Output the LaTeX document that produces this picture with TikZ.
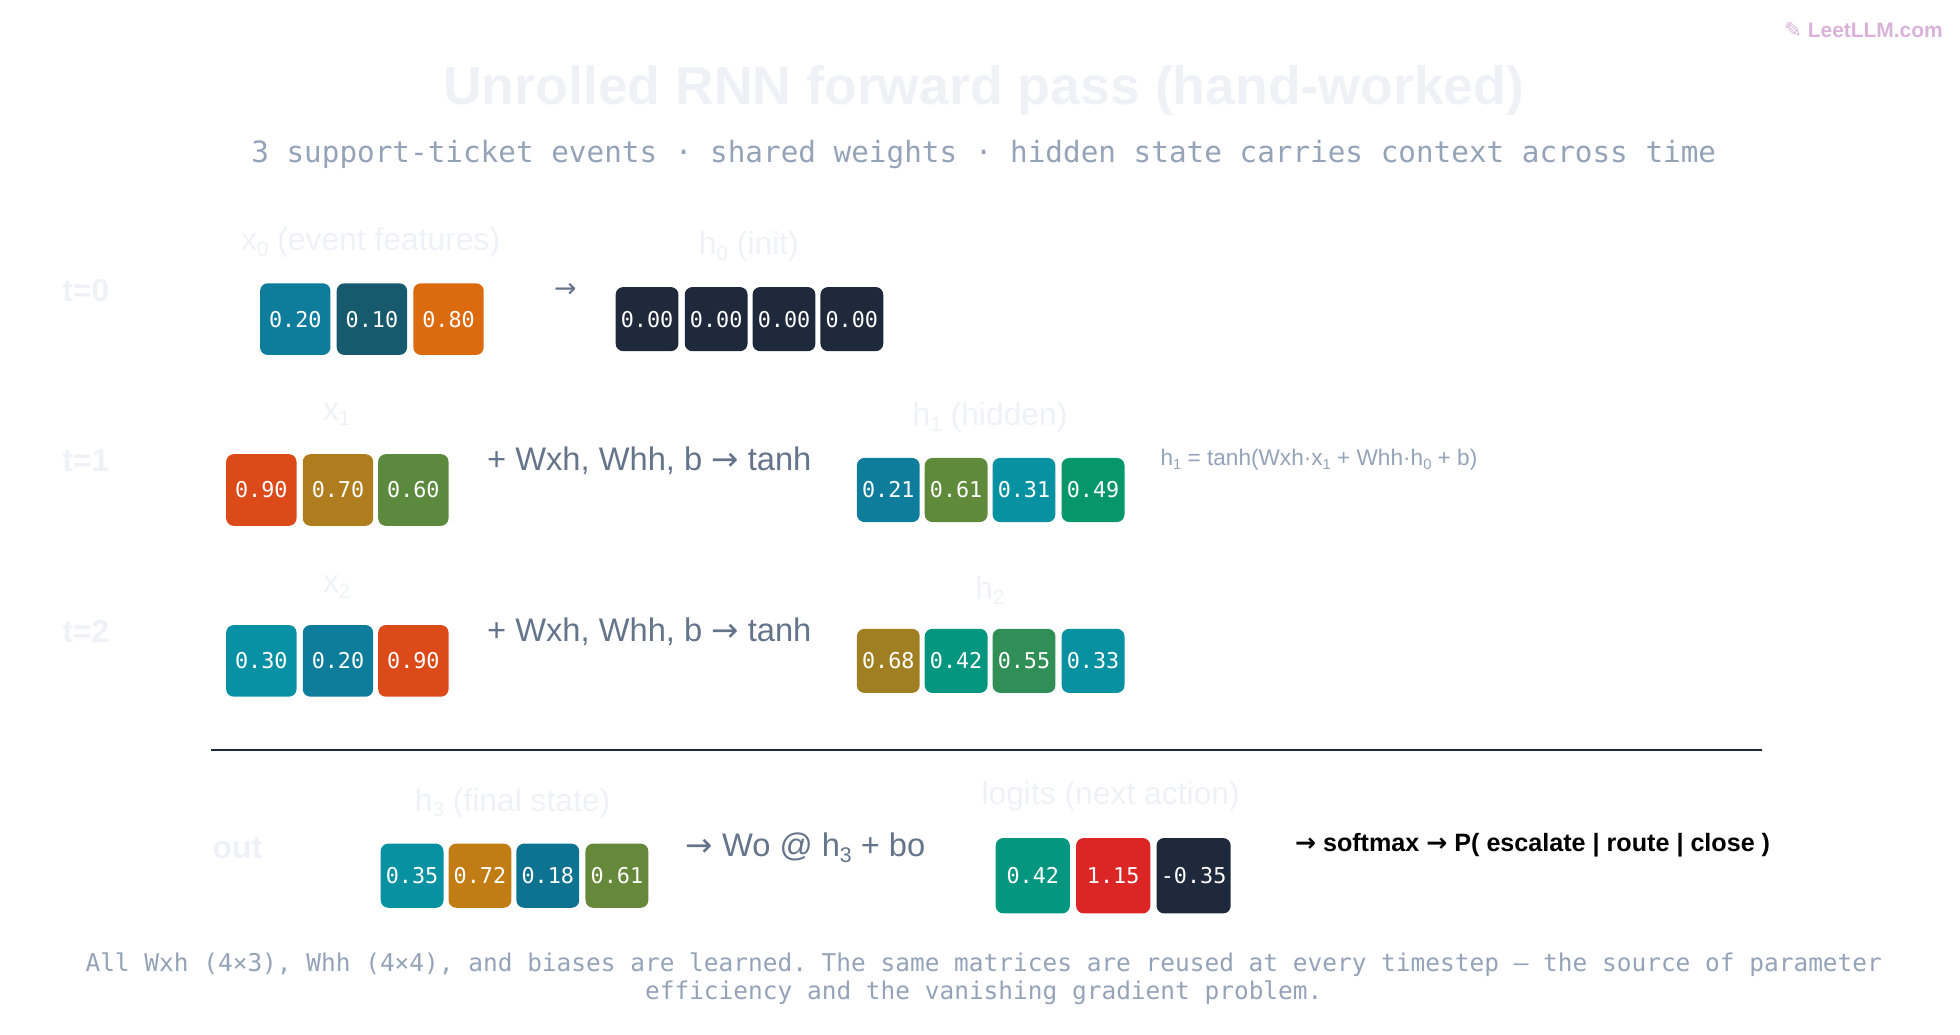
\documentclass[tikz,border=0pt]{standalone}
\usepackage{fontspec}
\setmainfont{Liberation Sans}
\setmonofont{DejaVu Sans Mono}
\newfontfamily\djv{DejaVu Sans}
\newcommand{\arr}{{\djv →}}
\newcommand{\sbs}[1]{\raisebox{-0.35ex}{\scalebox{0.65}{#1}}}
\newcommand{\fs}[1]{\fontsize{#1}{#1}\selectfont}
\definecolor{faint}{HTML}{EEF2F7}
\definecolor{slate}{HTML}{64748B}
\definecolor{slatel}{HTML}{94A3B8}
\definecolor{ink}{HTML}{1E293B}
\newcommand{\cell}[7]{\definecolor{c#1}{HTML}{#6}\node[cell,fill=c#1,minimum width=#4*0.75pt,minimum height=#5*0.75pt] (#1) at (#2,#3) {#7};}
\begin{document}
\begin{tikzpicture}[x=0.75pt,y=-0.75pt,
  cell/.style={rounded corners=4.5pt,text=white,font=\ttfamily\fs{13pt},inner sep=0pt},
  faintlbl/.style={text=faint,font=\bfseries\fs{19pt}},
  lbl/.style={text=faint,font=\fs{19pt}},
  op/.style={text=slate,font=\fs{19.5pt},anchor=west}]
\useasboundingbox (0,0) rectangle (1560,823);
\node[text=violet!30,font=\bfseries\fs{12.5pt},anchor=east] (logo) at (1551,24) {{\djv ✎} LeetLLM.com};
\node[text=faint,font=\bfseries\fs{32pt}] (title) at (783,72) {Unrolled RNN forward pass (hand-worked)};
\node[text=slatel,font=\ttfamily\fs{17.5pt}] (sub) at (783,123) {3 support-ticket events · shared weights · hidden state carries context across time};
% t=0
\node[faintlbl,anchor=west] (t0) at (45,231) {t=0};
\node[lbl] (lx0) at (295,193) {x\sbs{0} (event features)};
\cell{x00}{235}{254}{56}{57}{0E7C9B}{0.20}
\cell{x01}{296}{254}{56}{57}{175A6E}{0.10}
\cell{x02}{357}{254}{56}{57}{DC6A0E}{0.80}
\node[text=slate,font=\djv\fs{16pt}] (a0) at (450,231) {→};
\node[lbl] (lh0) at (596,196) {h\sbs{0} (init)};
\cell{h00}{515}{254}{50}{51}{1E293B}{0.00}
\cell{h01}{570}{254}{50}{51}{1E293B}{0.00}
\cell{h02}{624}{254}{50}{51}{1E293B}{0.00}
\cell{h03}{678}{254}{50}{51}{1E293B}{0.00}
% t=1
\node[faintlbl,anchor=west] (t1) at (45,367) {t=1};
\node[lbl] (lx1) at (268,330) {x\sbs{1}};
\cell{x10}{208}{390}{56}{57}{DC4A1A}{0.90}
\cell{x11}{269}{390}{56}{57}{B07D1E}{0.70}
\cell{x12}{329}{390}{56}{57}{5B8A3E}{0.60}
\node[op] (o1) at (383,367) {+ Wxh, Whh, b \arr{} tanh};
\node[lbl] (lh1) at (788,332) {h\sbs{1} (hidden)};
\cell{h10}{707}{390}{50}{51}{0E7C9B}{0.21}
\cell{h11}{761}{390}{50}{51}{5F8A3A}{0.61}
\cell{h12}{815}{390}{50}{51}{0891A0}{0.31}
\cell{h13}{870}{390}{50}{51}{059669}{0.49}
\node[text=slatel,font=\fs{13.5pt},anchor=west] (f1) at (919,366) {h\sbs{1} = tanh(Wxh·x\sbs{1} + Whh·h\sbs{0} + b)};
% t=2
\node[faintlbl,anchor=west] (t2) at (45,503) {t=2};
\node[lbl] (lx2) at (268,467) {x\sbs{2}};
\cell{x20}{208}{526}{56}{57}{0891A5}{0.30}
\cell{x21}{269}{526}{56}{57}{0E7C9B}{0.20}
\cell{x22}{329}{526}{56}{57}{DC4A1A}{0.90}
\node[op] (o2) at (383,503) {+ Wxh, Whh, b \arr{} tanh};
\node[lbl] (lh2) at (788,470) {h\sbs{2}};
\cell{h20}{707}{526}{50}{51}{A07F23}{0.68}
\cell{h21}{761}{526}{50}{51}{059680}{0.42}
\cell{h22}{815}{526}{50}{51}{2F8F57}{0.55}
\cell{h23}{870}{526}{50}{51}{0891A0}{0.33}
% divider
\coordinate (d1) at (168,597); \coordinate (d2) at (1402,597);
\draw[ink,line width=1.5pt] (d1) -- (d2);
% out
\node[faintlbl] (tout) at (189,675) {out};
\node[lbl] (lh3) at (408,639) {h\sbs{3} (final state)};
\cell{h30}{328}{697}{50}{51}{0891A0}{0.35}
\cell{h31}{382}{697}{50}{51}{C27C14}{0.72}
\cell{h32}{436}{697}{50}{51}{0E7390}{0.18}
\cell{h33}{491}{697}{50}{51}{65883A}{0.61}
\node[op] (o3) at (541,675) {\arr{} Wo @ h\sbs{3} + bo};
\node[lbl] (llog) at (884,634) {logits (next action)};
\cell{l0}{822}{697}{59}{60}{059680}{0.42}
\cell{l1}{886}{697}{59}{60}{DC2626}{1.15}
\cell{l2}{950}{697}{59}{60}{1E293B}{-0.35}
\node[text=black,font=\bfseries\fs{15pt},anchor=west] (sm) at (1026,673) {\arr{} softmax \arr{} P( escalate | route | close )};
% footer
\node[text=slatel,font=\ttfamily\fs{14.6pt},align=center] (foot) at (783,779) {All Wxh (4×3), Whh (4×4), and biases are learned. The same matrices are reused at every timestep — the source of parameter\\[2pt] efficiency and the vanishing gradient problem.};
\end{tikzpicture}
\end{document}
